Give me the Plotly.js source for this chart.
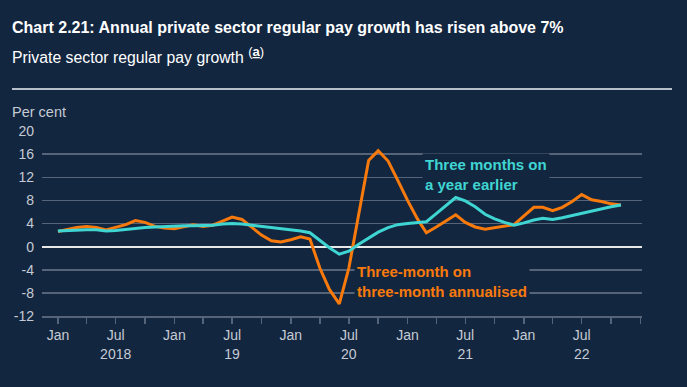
<!DOCTYPE html>
<html>
<head>
<meta charset="utf-8">
<script src="https://cdn.plot.ly/plotly-3.0.1.min.js"></script>
<style>
  html, body { margin: 0; padding: 0; background: #13263f; }
  #chart { width: 687px; height: 387px; }
</style>
</head>
<body>
<div id="chart"></div>
<script>
// Monthly observations, Jan 2018 to Nov 2022
const startYear = 2018;
const nMonths = 59;
const months = [];
for (let i = 0; i < nMonths; i++) {
  const y = startYear + Math.floor(i / 12);
  const m = (i % 12) + 1;
  months.push(y + '-' + String(m).padStart(2, '0') + '-01');
}

// Three-month on three-month annualised (per cent)
const threeOnThree = [
  2.6, 3.0, 3.3, 3.5, 3.3, 2.9, 3.3, 3.8, 4.5, 4.2, 3.5, 3.2,
  3.1, 3.4, 3.8, 3.5, 3.7, 4.4, 5.1, 4.7, 3.3, 2.0, 1.0, 0.8,
  1.2, 1.7, 1.3, -3.7, -7.4, -9.9, -3.7, 5.5, 14.9, 16.6, 14.8, 11.5,
  8.0, 4.8, 2.4, 3.4, 4.5, 5.5, 4.2, 3.4, 3.0, 3.3, 3.5, 3.8,
  5.3, 6.8, 6.8, 6.2, 6.8, 7.8, 9.0, 8.1, 7.8, 7.4, 7.2
];

// Three months on a year earlier (per cent)
const threeOnYear = [
  2.7, 2.8, 2.9, 2.9, 2.9, 2.7, 2.8, 3.0, 3.2, 3.3, 3.4, 3.5,
  3.5, 3.6, 3.6, 3.6, 3.7, 3.9, 4.0, 3.9, 3.7, 3.4, 3.2, 3.0,
  2.9, 2.7, 2.4, 1.1, -0.2, -1.3, -0.8, 0.4, 1.5, 2.5, 3.3, 3.8,
  4.0, 4.1, 4.3, 5.7, 7.1, 8.5, 7.9, 6.9, 5.6, 4.8, 4.2, 3.7,
  4.1, 4.6, 4.9, 4.7, 5.0, 5.4, 5.8, 6.1, 6.5, 6.9, 7.2
];

// X-axis labelled ticks (Jan / Jul); unlabelled quarterly ticks come from minor ticks
const xTickVals = [
  '2018-01-01','2018-07-01','2019-01-01','2019-07-01',
  '2020-01-01','2020-07-01','2021-01-01','2021-07-01',
  '2022-01-01','2022-07-01'
];
const xTickText = [
  'Jan','Jul<br>2018','Jan','Jul<br>19',
  'Jan','Jul<br>20','Jan','Jul<br>21',
  'Jan','Jul<br>22'
];

// Y-axis ticks
const yTickVals = [-12, -8, -4, 0, 4, 8, 12, 16, 20];
const yTickText = ['-12', '-8', '-4', '0', '4', '8', '12', '16', '20'];
// right-hand labels padded so they line up on the right
const yTickTextRight = ['-12', '\u2007-8', '\u2007-4', '\u2007\u20080', '\u2008\u20074', '\u2008\u20078', '\u200812', '\u200816', '\u200820'];

const BG = '#13263f';
const ORANGE = '#f97a0c';
const CYAN = '#3fd5d2';
const GRID = '#56647a';
const FONT = 'Arial, Liberation Sans, sans-serif';
const TICKFONT = { family: FONT, size: 14, color: '#c5cbd5' };

const traces = [
  {
    x: months, y: threeOnThree, type: 'scatter', mode: 'lines',
    line: { color: ORANGE, width: 3 }, hoverinfo: 'skip', showlegend: false
  },
  {
    x: months, y: threeOnYear, type: 'scatter', mode: 'lines',
    line: { color: CYAN, width: 3 }, hoverinfo: 'skip', showlegend: false
  }
];

const layout = {
  width: 687, height: 387,
  paper_bgcolor: BG, plot_bgcolor: BG,
  margin: { l: 42, r: 45, t: 131, b: 71 },
  font: { family: FONT, color: '#ffffff' },
  title: {
    text: '<b>Chart 2.21: Annual private sector regular pay growth has risen above 7%</b>',
    xref: 'container', yref: 'container',
    x: 12 / 687, xanchor: 'left',
    y: 1 - 27 / 387, yanchor: 'middle',
    font: { family: FONT, size: 16, color: '#ffffff' }
  },
  xaxis: {
    type: 'date',
    range: ['2017-11-12', '2023-01-06'],
    tickvals: xTickVals, ticktext: xTickText,
    ticks: 'outside', ticklen: 6, tickwidth: 1.5, tickcolor: GRID,
    minor: { tick0: '2018-01-01', dtick: 'M3', ticks: 'outside', ticklen: 6, tickwidth: 1.5, tickcolor: GRID, showgrid: false },
    showgrid: false, zeroline: false,
    showline: true, linecolor: GRID, linewidth: 1.5,
    tickfont: TICKFONT, fixedrange: true
  },
  yaxis: {
    range: [-12, 20],
    tickvals: yTickVals, ticktext: yTickText,
    showgrid: true, gridcolor: GRID, gridwidth: 1.5,
    zeroline: true, zerolinecolor: '#e8e8e8', zerolinewidth: 2,
    ticks: '', ticklabelstandoff: 7,
    tickfont: TICKFONT, fixedrange: true
  },
  yaxis2: {
    range: [-12, 20], overlaying: 'y', side: 'right',
    tickvals: yTickVals, ticktext: yTickTextRight,
    showgrid: false, zeroline: false, ticks: '', ticklabelstandoff: 9,
    tickfont: TICKFONT, fixedrange: true
  },
  shapes: [
    {
      type: 'line', xref: 'paper', yref: 'paper',
      x0: (12 - 42) / 600, x1: (672 - 42) / 600,
      y0: (316 - 89) / 185, y1: (316 - 89) / 185,
      line: { color: '#b7bfca', width: 2 }
    }
  ],
  annotations: [
    {
      text: 'Private sector regular pay growth <sup><span style="font-size:13px">(<span style="font-weight:bold;text-decoration:underline;text-decoration-color:#3fd5d2">a</span>)</span></sup>',
      xref: 'paper', yref: 'paper',
      x: (11 - 42) / 600, xanchor: 'left',
      y: (316 - 55) / 185, yanchor: 'middle',
      showarrow: false, align: 'left', borderpad: 0,
      font: { family: FONT, size: 15.8, color: '#ffffff' }
    },
    {
      text: 'Per cent',
      xref: 'paper', yref: 'paper',
      x: (11 - 42) / 600, xanchor: 'left',
      y: (316 - 112) / 185, yanchor: 'middle',
      showarrow: false, align: 'left', borderpad: 0,
      font: { family: FONT, size: 14.5, color: '#c5cbd5' }
    },
    {
      text: '<b>Three months on<br>a year earlier</b>',
      xref: 'paper', yref: 'paper',
      x: (422 - 42) / 600, xanchor: 'left',
      y: (316 - 174) / 185, yanchor: 'middle',
      showarrow: false, align: 'left', bgcolor: BG, borderpad: 2,
      font: { family: FONT, size: 15, color: CYAN }
    },
    {
      text: '<b>Three-month on<br>three-month annualised</b>',
      xref: 'paper', yref: 'paper',
      x: (354 - 42) / 600, xanchor: 'left',
      y: (316 - 281) / 185, yanchor: 'middle',
      showarrow: false, align: 'left', bgcolor: BG, borderpad: 2,
      font: { family: FONT, size: 15, color: ORANGE }
    }
  ]
};

Plotly.newPlot('chart', traces, layout, { staticPlot: true, displayModeBar: false });
</script>
</body>
</html>
